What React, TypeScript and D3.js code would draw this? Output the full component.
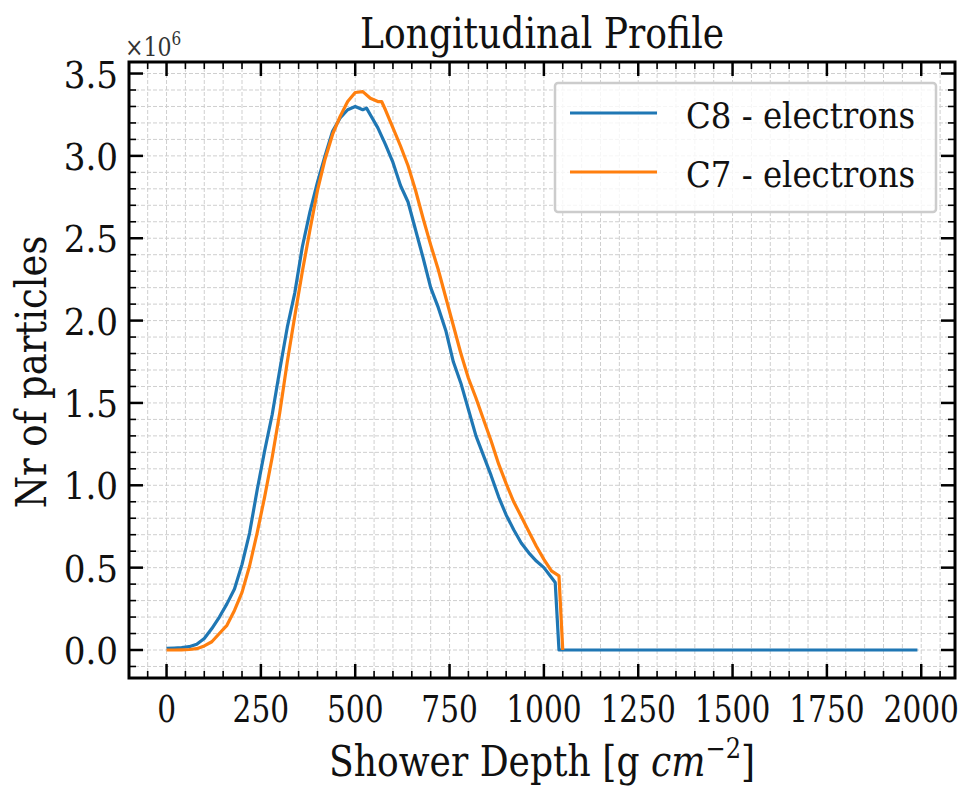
import * as d3 from "d3";

// shower depth [g cm^-2] and electron counts [x 1e6]
const c8Depth = [
  0, 20, 40, 60, 80, 100, 120, 140, 160, 180, 200, 220, 240, 260, 280, 300, 320, 340, 360, 380,
  400, 420, 440, 460, 480, 500, 520, 530, 540, 560, 580, 600, 620, 640, 660, 680, 700, 720, 740,
  760, 780, 800, 820, 840, 860, 880, 900, 920, 940, 960, 980, 1000, 1020, 1030, 1040, 1990,
];
const c8Values = [
  0.01, 0.012, 0.015, 0.02, 0.035, 0.07, 0.13, 0.2, 0.28, 0.37, 0.52, 0.71, 0.97, 1.21, 1.43, 1.7,
  1.96, 2.17, 2.45, 2.66, 2.84, 3.0, 3.15, 3.23, 3.28, 3.3, 3.28, 3.29, 3.25, 3.17, 3.07, 2.96,
  2.82, 2.72, 2.55, 2.38, 2.2, 2.08, 1.94, 1.75, 1.62, 1.46, 1.3, 1.18, 1.06, 0.93, 0.82, 0.73,
  0.65, 0.59, 0.54, 0.5, 0.44, 0.41, 0, 0,
];

const c7Depth = [
  0, 20, 40, 60, 80, 100, 120, 140, 160, 180, 200, 220, 240, 260, 280, 300, 320, 340, 360, 380,
  400, 420, 440, 460, 480, 500, 520, 540, 560, 570, 580, 600, 620, 640, 660, 680, 700, 720, 740,
  760, 780, 800, 820, 840, 860, 880, 900, 920, 940, 960, 980, 1000, 1020, 1040, 1050,
];
const c7Values = [
  0.0, 0.0, 0.001, 0.003, 0.008, 0.025, 0.05, 0.1, 0.15, 0.24, 0.35, 0.51, 0.71, 0.93, 1.17, 1.44,
  1.75, 2.03, 2.3, 2.55, 2.79, 2.98, 3.13, 3.24, 3.33, 3.385, 3.39, 3.35, 3.33, 3.33, 3.28, 3.17,
  3.06, 2.94, 2.79, 2.62, 2.46, 2.31, 2.14, 1.97, 1.8, 1.65, 1.53, 1.4, 1.27, 1.13, 1.01, 0.9,
  0.81, 0.72, 0.63, 0.55, 0.48, 0.45, 0,
];

const seriesNames = ["C8 - electrons", "C7 - electrons"];
const seriesColors = ["#1f77b4", "#ff7f0e"];

const xTicks = [0, 250, 500, 750, 1000, 1250, 1500, 1750, 2000];
const yTicks = [0, 0.5, 1.0, 1.5, 2.0, 2.5, 3.0, 3.5];

const W = 961;
const H = 790;
const left = 129;
const right = 955;
const top = 62;
const bottom = 678;
const FONT = "DejaVu Serif";

// serif text, squeezed horizontally to the narrower face of the original
function T(props: {
  x: number;
  y: number;
  size: number;
  anchor?: string;
  sx?: number;
  rotate?: number;
  fill?: string;
  children: any;
}) {
  const { x, y, size, anchor = "start", sx = 0.88, rotate = 0, fill = "#111", children } = props;
  return (
    <g transform={`translate(${x},${y}) rotate(${rotate}) scale(${sx},1)`}>
      <text x={0} y={0} fontSize={size} textAnchor={anchor} fill={fill} fontFamily={FONT}>
        {children}
      </text>
    </g>
  );
}

export default function App() {
  const x = d3.scaleLinear().domain([-99.5, 2089.5]).range([left, right]);
  const y = d3.scaleLinear().domain([-0.17, 3.57]).range([bottom, top]);

  const xMinor = d3.range(-50, 2090, 50).filter((v) => x(v) > left + 1 && x(v) < right - 1);
  const yMinor = d3
    .range(-1, 36, 1)
    .map((v) => v / 10)
    .filter((v) => y(v) < bottom - 1 && y(v) > top + 1);

  const line = d3
    .line<[number, number]>()
    .x((d) => x(d[0]))
    .y((d) => y(d[1]));

  const series = [
    c8Depth.map((d, i) => [d, c8Values[i]] as [number, number]),
    c7Depth.map((d, i) => [d, c7Values[i]] as [number, number]),
  ];

  const isMajorX = (v: number) => v % 250 === 0;
  const isMajorY = (v: number) => Math.abs(v * 2 - Math.round(v * 2)) < 1e-6;

  return (
    <svg width={W} height={H} style={{ position: "absolute", left: 0, top: 0, background: "#fff" }}>
      <defs>
        <clipPath id="plot">
          <rect x={left} y={top} width={right - left} height={bottom - top} />
        </clipPath>
      </defs>

      {/* grid */}
      <g stroke="#cfcfcf" strokeWidth={1} strokeDasharray="4,2">
        {xMinor.map((v) => (
          <line key={"gx" + v} x1={x(v)} x2={x(v)} y1={top} y2={bottom} />
        ))}
        {yMinor.map((v) => (
          <line key={"gy" + v} x1={left} x2={right} y1={y(v)} y2={y(v)} />
        ))}
      </g>

      {/* curves */}
      <g clipPath="url(#plot)" fill="none" strokeWidth={3.2} strokeLinejoin="round">
        {series.map((s, i) => (
          <path key={i} d={line(s) ?? ""} stroke={seriesColors[i]} />
        ))}
      </g>

      {/* ticks, inward on all sides */}
      <g stroke="#000">
        {xMinor.map((v) => {
          const len = isMajorX(v) ? 14 : 7;
          const sw = isMajorX(v) ? 2.5 : 1.6;
          return (
            <g key={"tx" + v} strokeWidth={sw}>
              <line x1={x(v)} x2={x(v)} y1={bottom} y2={bottom - len} />
              <line x1={x(v)} x2={x(v)} y1={top} y2={top + len} />
            </g>
          );
        })}
        {yMinor.map((v) => {
          const len = isMajorY(v) ? 14 : 7;
          const sw = isMajorY(v) ? 2.5 : 1.6;
          return (
            <g key={"ty" + v} strokeWidth={sw}>
              <line x1={left} x2={left + len} y1={y(v)} y2={y(v)} />
              <line x1={right} x2={right - len} y1={y(v)} y2={y(v)} />
            </g>
          );
        })}
      </g>

      {/* frame */}
      <rect
        x={left}
        y={top}
        width={right - left}
        height={bottom - top}
        fill="none"
        stroke="#000"
        strokeWidth={3}
      />

      {/* tick labels */}
      {xTicks.map((v) => (
        <T key={"lx" + v} x={x(v)} y={722} size={38} anchor="middle" sx={0.78}>
          {v}
        </T>
      ))}
      {yTicks.map((v) => (
        <T key={"ly" + v} x={118} y={y(v) + 14} size={38} anchor="end" sx={0.9}>
          {v.toFixed(1)}
        </T>
      ))}

      {/* offset text */}
      <T x={125} y={56} size={26} fill="#333" sx={0.85}>
        ×10<tspan fontSize={18} dy={-11}>6</tspan>
      </T>

      {/* title and axis labels */}
      <T x={(left + right) / 2} y={48} size={42} anchor="middle" sx={0.86}>
        Longitudinal Profile
      </T>
      <T x={(left + right) / 2} y={776} size={42} anchor="middle" sx={0.86}>
        Shower Depth [g <tspan fontStyle="italic">cm</tspan>
        <tspan fontSize={28} dy={-18}>−2</tspan>
        <tspan dy={18}>]</tspan>
      </T>
      <T x={46} y={(top + bottom) / 2 + 2} size={42} anchor="middle" rotate={-90} sx={0.88}>
        Nr of particles
      </T>

      {/* legend */}
      <g>
        <rect
          x={555}
          y={83}
          width={381}
          height={129}
          rx={3}
          fill="#fff"
          fillOpacity={0.8}
          stroke="#cccccc"
          strokeWidth={2.5}
        />
        {seriesNames.map((name, i) => {
          const ly = 113 + i * 59;
          return (
            <g key={name}>
              <line x1={570} x2={657} y1={ly} y2={ly} stroke={seriesColors[i]} strokeWidth={3.2} />
              <T x={686} y={ly + 15} size={36} sx={0.9}>
                {name}
              </T>
            </g>
          );
        })}
      </g>
    </svg>
  );
}
